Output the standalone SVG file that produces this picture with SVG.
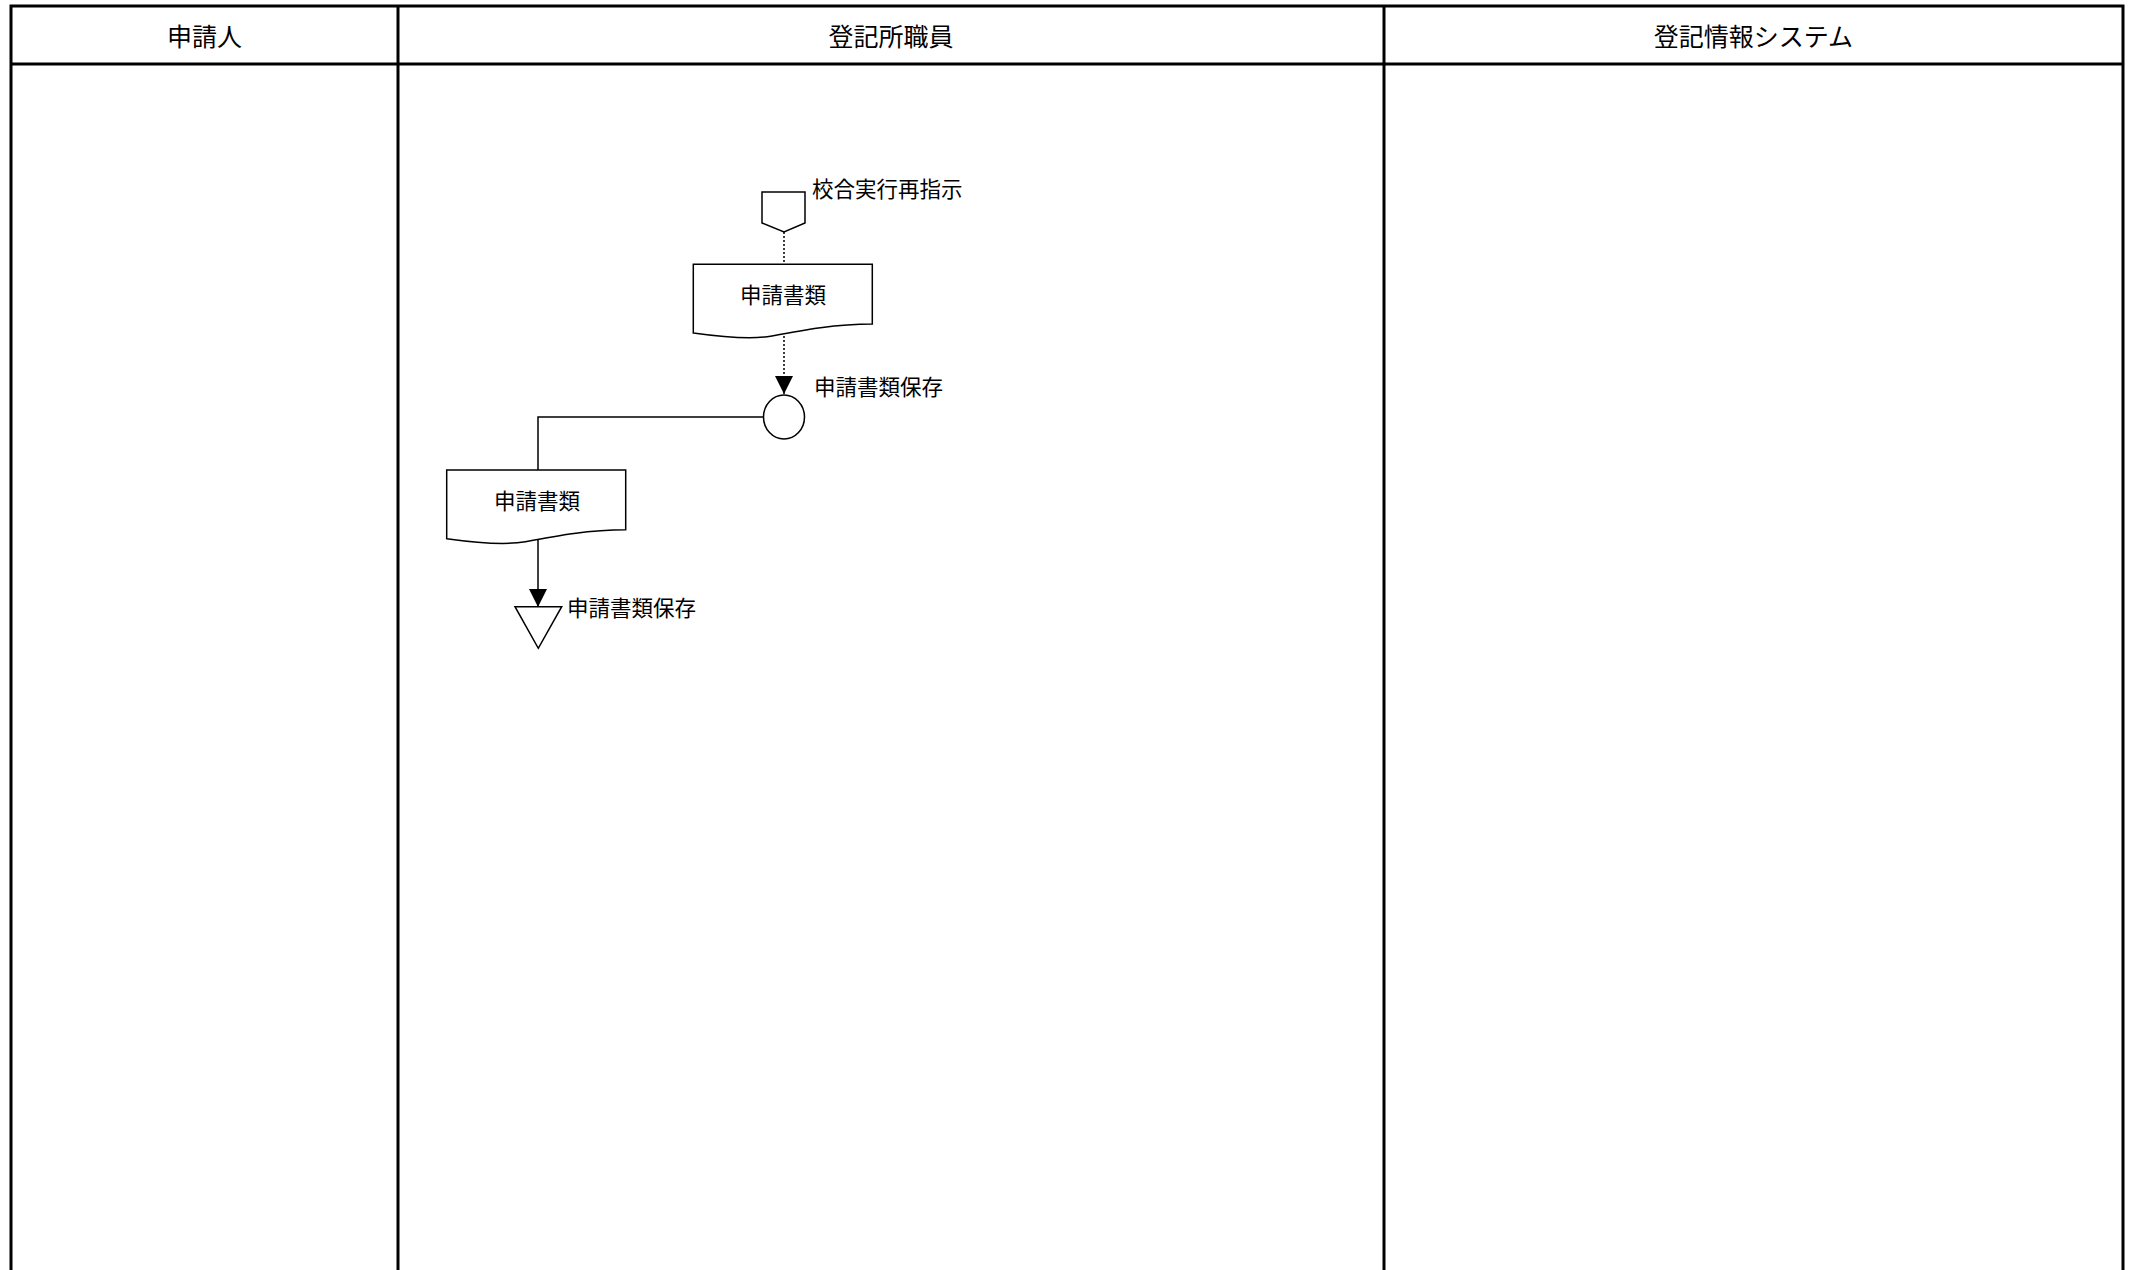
<svg xmlns="http://www.w3.org/2000/svg" width="2138" height="1270" viewBox="0 0 2138 1270">
<style>
.lane{fill:none;stroke:#000;stroke-width:3}
.shape{fill:#fff;stroke:#000;stroke-width:1.5}
.edge{fill:none;stroke:#000;stroke-width:1.5}
.dot{stroke-dasharray:2 2}
.hdr{font-family:"Noto Sans CJK JP","Noto Sans",sans-serif;font-size:25px;fill:#000;text-anchor:middle;dominant-baseline:central}
.t{font-family:"Noto Sans CJK JP","Noto Sans",sans-serif;font-size:21.5px;fill:#000;dominant-baseline:central}
.c{text-anchor:middle}
</style>
<defs>
<marker id="arr" viewBox="0 0 18 18" refX="18" refY="9" markerWidth="18" markerHeight="18" markerUnits="userSpaceOnUse" orient="auto">
<path d="M0,0 L18,9 L0,18 Z" fill="#000"/>
</marker>
</defs>
<rect width="2138" height="1270" fill="#fff"/>
<g id="lanes">
<path class="lane" d="M11,1272 V6 H2123 V1272"/>
<line class="lane" x1="11" y1="64" x2="2123" y2="64"/>
<line class="lane" x1="398" y1="6" x2="398" y2="1272"/>
<line class="lane" x1="1384" y1="6" x2="1384" y2="1272"/>
<text class="hdr" x="204.5" y="34.5">申請人</text>
<text class="hdr" x="891" y="34.5">登記所職員</text>
<text class="hdr" x="1753.5" y="34.5">登記情報システム</text>
</g>
<g id="connectors">
<line class="edge dot" x1="784" y1="232" x2="784" y2="264"/>
<line class="edge dot" x1="784" y1="336" x2="784" y2="394" marker-end="url(#arr)"/>
<polyline class="edge" points="763.5,417 538,417 538,470"/>
<line class="edge" x1="538" y1="540" x2="538" y2="607" marker-end="url(#arr)"/>
</g>
<g id="offpage">
<polygon class="shape" points="762,192 805,192 805,223 784,232 762,223"/>
<text class="t" x="812" y="187">校合実行再指示</text>
</g>
<g id="doc1">
<path class="shape" d="M693.3,264.3 H872.3 V324 C836,324 804,330 772,336 C750,340 722,337 693.3,333 Z"/>
<text class="t c" x="783" y="293">申請書類</text>
</g>
<g id="store1">
<ellipse class="shape" cx="784" cy="417" rx="20.5" ry="22"/>
<text class="t" x="814" y="385.5">申請書類保存</text>
</g>
<g id="doc2">
<path class="shape" d="M446.7,470 H625.7 V529.7 C589.4,529.7 557.4,535.7 525.4,541.7 C503.4,545.7 475.4,542.7 446.7,538.7 Z"/>
<text class="t c" x="537" y="499">申請書類</text>
</g>
<g id="store2">
<polygon class="shape" points="515,606.7 561.7,606.7 538.3,648.3"/>
<text class="t" x="567" y="606">申請書類保存</text>
</g>
</svg>
